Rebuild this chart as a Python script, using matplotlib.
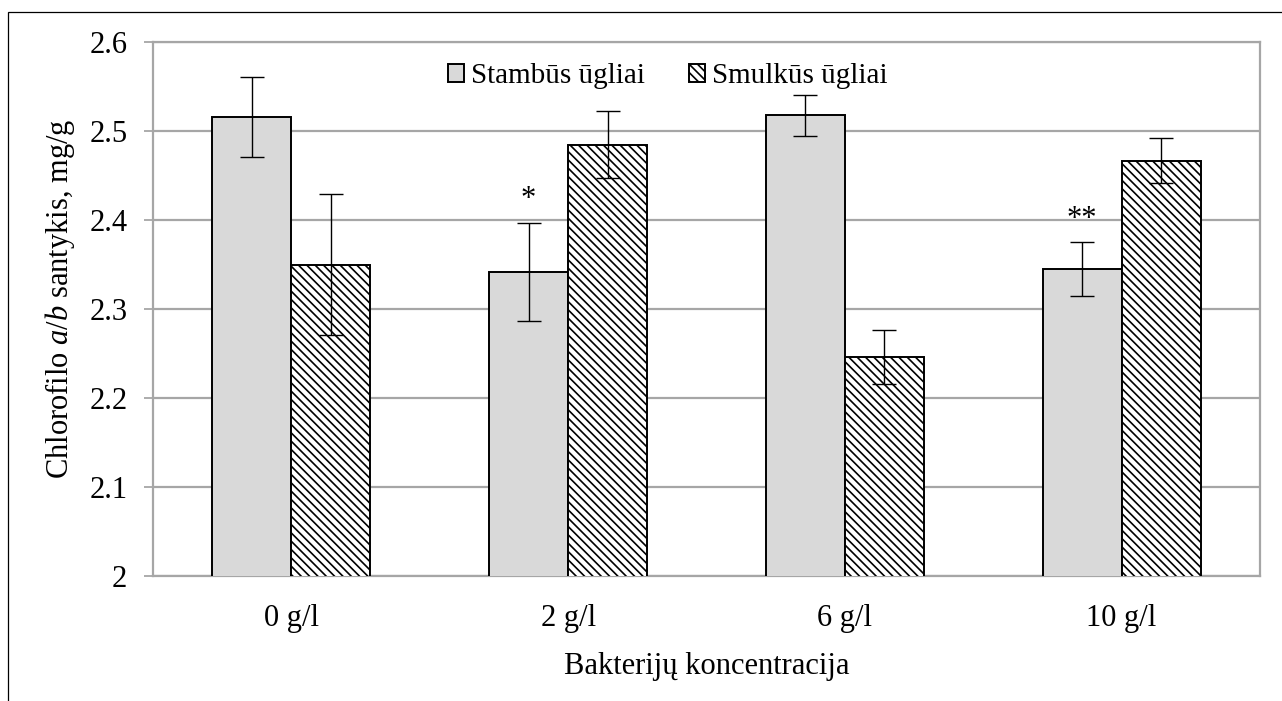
import matplotlib
matplotlib.use("Agg")
import matplotlib.pyplot as plt
import numpy as np
from matplotlib.patches import Rectangle

# Chlorophyll a/b ratio by bacterial concentration
categories = ["0 g/l", "2 g/l", "6 g/l", "10 g/l"]
stambus = [2.516, 2.342, 2.518, 2.345]
stambus_err = [0.045, 0.055, 0.023, 0.030]
smulkus = [2.350, 2.485, 2.246, 2.467]
smulkus_err = [0.079, 0.038, 0.030, 0.025]
series_labels = ["Stambūs ūgliai", "Smulkūs ūgliai"]
significance = {1: "*", 3: "**"}  # marks above Stambūs bars
y_ticks = [2.0, 2.1, 2.2, 2.3, 2.4, 2.5, 2.6]
y_tick_labels = ["2", "2.1", "2.2", "2.3", "2.4", "2.5", "2.6"]

plt.rcParams["font.family"] = ["Liberation Serif", "DejaVu Serif"]
plt.rcParams["mathtext.fontset"] = "custom"
plt.rcParams["mathtext.rm"] = "Liberation Serif"
plt.rcParams["mathtext.it"] = "Liberation Serif:italic"
plt.rcParams["hatch.linewidth"] = 1.2

FS = 22

fig = plt.figure(figsize=(12.82, 7.01), dpi=100)
ax = fig.add_axes([153 / 1282, 1 - 576 / 701, 1107 / 1282, (576 - 42.3) / 701])

grid_c = "#a6a6a6"
x = np.arange(len(categories))
w = 0.2855

err_kw = dict(ecolor="black", elinewidth=1.0, capsize=8.6, capthick=1.0)
b1 = ax.bar(x - w / 2, stambus, w, color="#d9d9d9", edgecolor="black",
            linewidth=1.4, yerr=stambus_err, error_kw=err_kw, zorder=3,
            label=series_labels[0])
b2 = ax.bar(x + w / 2, smulkus, w, color="white", edgecolor="black", hatch="\\\\\\\\",
            linewidth=1.4, yerr=smulkus_err, error_kw=err_kw, zorder=3,
            label=series_labels[1])

for i, mark in significance.items():
    ax.text(x[i] - w / 2, stambus[i] + stambus_err[i] + 0.010, mark,
            ha="center", va="bottom", fontsize=FS, zorder=4)

ax.set_ylim(2.0, 2.6)
ax.set_xlim(-0.5, len(categories) - 0.5)
ax.set_yticks(y_ticks)
ax.set_yticklabels(y_tick_labels)
ax.set_xticks(x)
ax.set_xticklabels(categories)
ax.yaxis.grid(True, color=grid_c, linewidth=1.6, zorder=0)
ax.set_axisbelow(True)

for s in ax.spines.values():
    s.set_color(grid_c)
    s.set_linewidth(1.6)

ax.tick_params(axis="y", direction="out", length=6.5, width=1.3, color=grid_c,
               labelsize=FS, pad=12)
ax.tick_params(axis="x", length=0, labelsize=FS, pad=20)

ax.set_ylabel(r"Chlorofilo $\mathit{a/b}$ santykis, mg/g", fontsize=FS, va="center")
ax.yaxis.set_label_coords(-0.084, 0.52)
ax.set_xlabel("Bakterijų koncentracija", fontsize=FS, va="center")
ax.xaxis.set_label_coords(0.5, -0.170)

ax.legend(loc="center", bbox_to_anchor=(0.465, 0.936), ncol=2, frameon=False,
          fontsize=21, handlelength=0.55, handleheight=0.55, handletextpad=0.25,
          columnspacing=1.5)

# outer chart frame
fig.add_artist(Rectangle((8 / 1282, -0.2), 1.5, 1 - 12 / 701 + 0.2,
                         transform=fig.transFigure, fill=False,
                         edgecolor="black", linewidth=0.9))

fig.savefig("out.png", dpi=100)
